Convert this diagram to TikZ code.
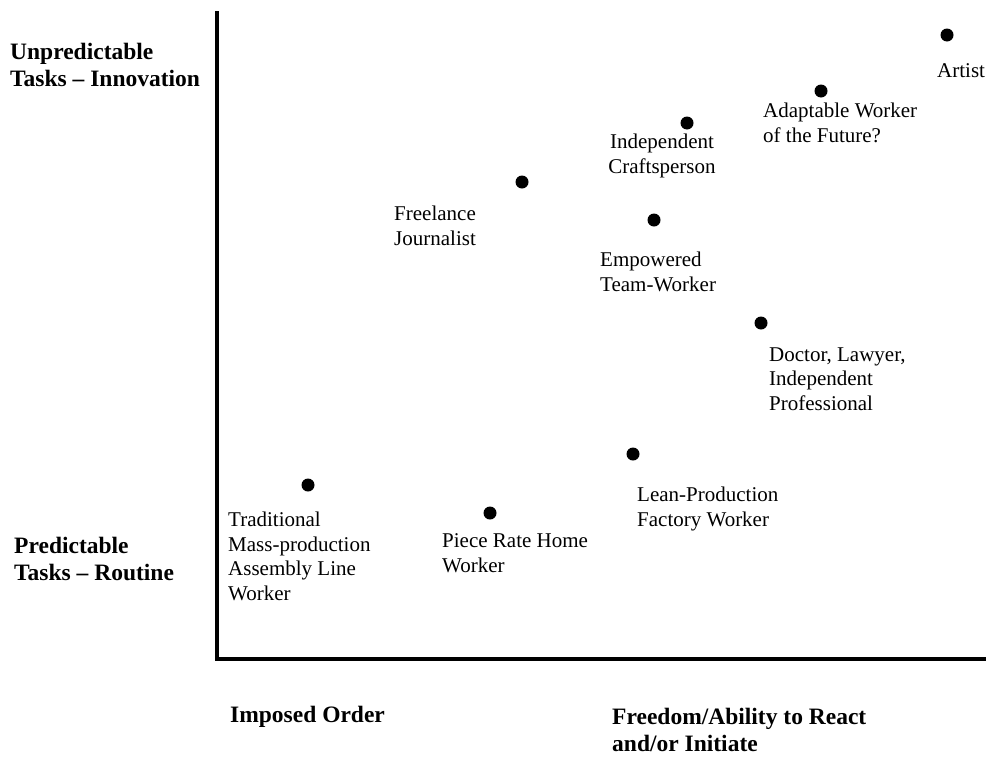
\documentclass[tikz,border=0pt]{standalone}
\usepackage{fontspec}
\setmainfont{Liberation Serif}
\begin{document}
\begin{tikzpicture}[x=1pt,y=-1pt,
  dot/.style={circle,fill=black,inner sep=0pt,minimum size=13pt},
  lbl/.style={anchor=base west,inner sep=0pt,align=left,font=\fontsize{21}{24.5}\selectfont},
  axlbl/.style={anchor=base west,inner sep=0pt,align=left,font=\fontsize{23.5}{27}\selectfont\bfseries},
  axis/.style={line width=4pt}]
\useasboundingbox (0,0) rectangle (986,758);
% axes
\coordinate (ytop) at (217,11);
\coordinate (orig) at (217,659);
\coordinate (xend) at (986,659);
\draw[axis] (ytop) -- (orig) -- (xend);
% axis labels (anchor = baseline of the last line)
\node[axlbl] (unpred) at (10,86) {Unpredictable\\Tasks -- Innovation};
\node[axlbl] (pred) at (14,580) {Predictable\\Tasks -- Routine};
\node[axlbl] (imposed) at (230,722) {Imposed Order};
\node[axlbl] (freedom) at (612,751) {Freedom/Ability to React\\and/or Initiate};
% points
\node[dot] (artistdot) at (947,35) {};
\node[lbl] (artist) at (937,77) {Artist};
\node[dot] (adaptdot) at (821,91) {};
\node[lbl] (adapt) at (763,142) {Adaptable Worker\\of the Future?};
\node[dot] (craftdot) at (687,123) {};
\node[lbl,align=center,anchor=base] (craft) at (662,173) {Independent\\Craftsperson};
\node[dot] (freedot) at (522,182) {};
\node[lbl] (free) at (394,245) {Freelance\\Journalist};
\node[dot] (empdot) at (654,220) {};
\node[lbl] (emp) at (600,291) {Empowered\\Team-Worker};
\node[dot] (docdot) at (761,323) {};
\node[lbl] (doc) at (769,410) {Doctor, Lawyer,\\Independent\\Professional};
\node[dot] (leandot) at (633,454) {};
\node[lbl] (lean) at (637,526) {Lean-Production\\Factory Worker};
\node[dot] (tradot) at (308,485) {};
\node[lbl] (trad) at (228,600) {Traditional\\Mass-production\\Assembly Line\\Worker};
\node[dot] (piecedot) at (490,513) {};
\node[lbl] (piece) at (442,572) {Piece Rate Home\\Worker};
\end{tikzpicture}
\end{document}
